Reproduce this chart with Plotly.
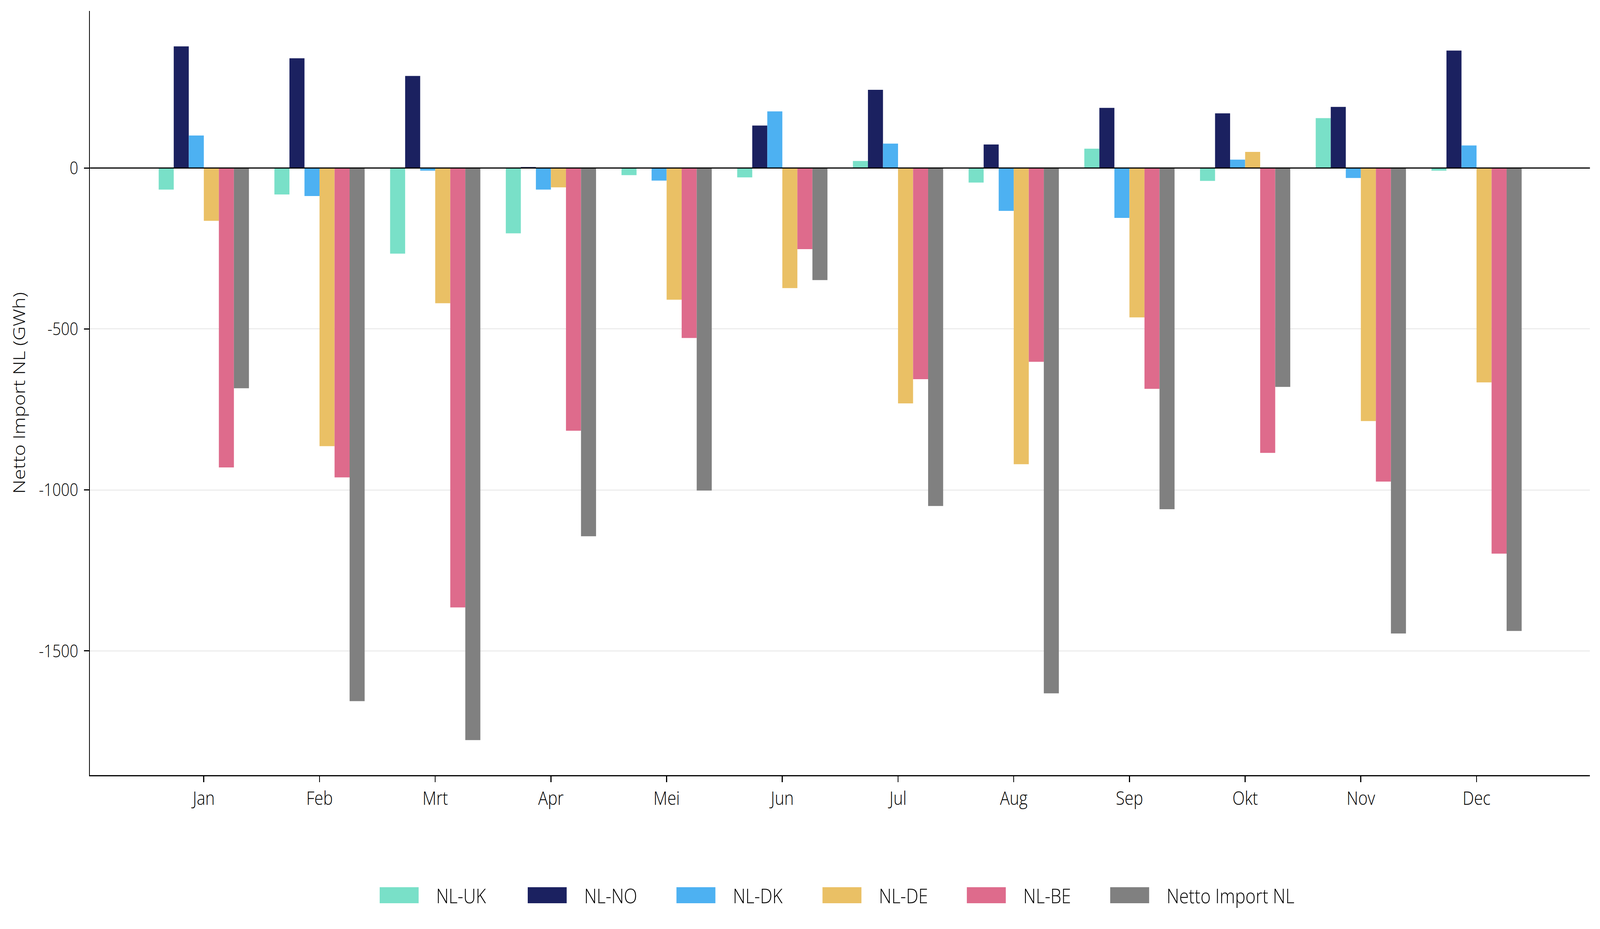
import plotly.graph_objects as go

months = ["Jan", "Feb", "Mrt", "Apr", "Mei", "Jun", "Jul", "Aug", "Sep", "Okt", "Nov", "Dec"]
series_names = ["NL-UK", "NL-NO", "NL-DK", "NL-DE", "NL-BE", "Netto Import NL"]
nl_uk = [-67, -82, -266, -203, -22, -29, 22, -45, 60, -40, 155, -8]
nl_no = [378, 341, 286, 3, 0, 132, 243, 73, 187, 170, 190, 365]
nl_dk = [101, -87, -8, -67, -39, 176, 76, -133, -155, 26, -31, 70]
nl_de = [-164, -864, -420, -60, -409, -373, -731, -920, -464, 50, -786, -666]
nl_be = [-930, -961, -1365, -816, -528, -252, -656, -602, -686, -885, -974, -1198]
netto = [-684, -1656, -1777, -1144, -1002, -348, -1050, -1632, -1060, -680, -1446, -1438]
y_ticks = [0, -500, -1000, -1500]
y_tick_labels = ["0", "-500", "-1000", "-1500"]

colors = ["#79E0C8", "#1B2160", "#4DB1F2", "#EAC065", "#DE6B8C", "#808080"]
series_values = [nl_uk, nl_no, nl_dk, nl_de, nl_be, netto]

W, H = 4766, 2379
L, R, T, B = 268, 30, 28, 394
plot_w = W - L - R
plot_h = H - T - B
FONT = "Open Sans"

fig = go.Figure()
for name, vals, col in zip(series_names, series_values, colors):
    fig.add_trace(go.Bar(x=months, y=vals, name=name, marker=dict(color=col, line=dict(width=0)),
                         showlegend=False))

def px_to_paper_x(px):
    return (px - L) / plot_w

def px_to_paper_y(py):
    return (H - B - py) / plot_h

# custom legend (wide keys like the reference)
key_lefts = [1131, 1572, 2015, 2450, 2880, 3307]
key_w, key_top, key_bot = 116, 2272, 2313
shapes = []
annotations = []
for left, name, col in zip(key_lefts, series_names, colors):
    shapes.append(dict(type="rect", xref="paper", yref="paper",
                       x0=px_to_paper_x(left), x1=px_to_paper_x(left + key_w),
                       y0=px_to_paper_y(key_bot), y1=px_to_paper_y(key_top),
                       fillcolor=col, line=dict(width=0), layer="above"))
    annotations.append(dict(text=name, xref="paper", yref="paper",
                            x=px_to_paper_x(left + 166), y=px_to_paper_y(2292),
                            xanchor="left", yanchor="middle", showarrow=False,
                            font=dict(family=FONT, size=52, color="#000000", weight=300)))

# y axis title
annotations.append(dict(text="Netto Import NL (GWh)", xref="paper", yref="paper",
                        x=px_to_paper_x(55), y=0.5, xanchor="center", yanchor="middle",
                        textangle=-90, showarrow=False,
                        font=dict(family=FONT, size=50, color="#000000", weight=300)))

# zero reference line on top of the bars
shapes.append(dict(type="line", xref="paper", yref="y", x0=0, x1=1, y0=0, y1=0,
                   line=dict(color="#000000", width=3), layer="above"))

fig.update_layout(
    width=W, height=H,
    margin=dict(l=L, r=R, t=T, b=B, autoexpand=False),
    paper_bgcolor="#FFFFFF", plot_bgcolor="#FFFFFF",
    barmode="group", bargap=0.22, bargroupgap=0,
    shapes=shapes, annotations=annotations,
    showlegend=False,
    font=dict(family=FONT, color="#000000"),
)
fig.update_xaxes(
    type="category", range=[-0.984, 11.98],
    showgrid=False, zeroline=False,
    showline=True, linecolor="#000000", linewidth=3,
    ticks="outside", ticklen=15, tickwidth=3, tickcolor="#000000",
    tickfont=dict(family=FONT, size=48, color="#000000", weight=300),
    automargin=False,
)
fig.update_yaxes(
    range=[-1886, 488],
    tickvals=y_ticks, ticktext=y_tick_labels,
    showgrid=True, gridcolor="#E5E5E5", gridwidth=2,
    zeroline=False,
    showline=True, linecolor="#000000", linewidth=3,
    ticks="outside", ticklen=15, tickwidth=3, tickcolor="#000000",
    tickfont=dict(family=FONT, size=45, color="#000000", weight=300),
    ticklabelstandoff=8,
    automargin=False,
)

# fit the fixed-size figure exactly into the browser viewport
fit_js = """
(function(){
  var gd = document.getElementById('{plot_id}');
  var de = document.documentElement, bd = document.body;
  de.style.margin = '0'; bd.style.margin = '0'; de.style.padding = '0'; bd.style.padding = '0';
  de.style.overflow = 'hidden'; bd.style.overflow = 'hidden';
  var vw = window.innerWidth, vh = window.innerHeight;
  var sx = vw / %d, sy = vh / %d;
  var wrap = gd.parentElement;
  wrap.style.width = vw + 'px';
  wrap.style.height = vh + 'px';
  wrap.style.overflow = 'hidden';
  gd.style.transformOrigin = '0 0';
  gd.style.transform = 'scale(' + sx + ',' + sy + ')';
})();
""" % (W, H)

fig.write_html("out.html", post_script=fit_js, config={"displayModeBar": False})
